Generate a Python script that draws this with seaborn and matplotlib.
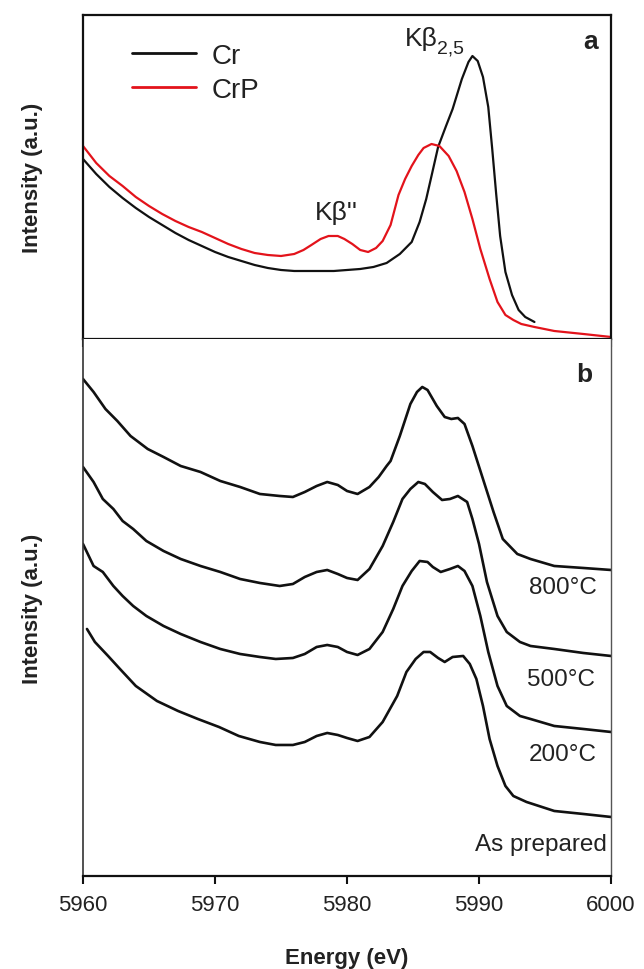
import matplotlib
matplotlib.use("Agg")
import matplotlib.pyplot as plt
import seaborn as sns
import pandas as pd

# ---------------- data ----------------
# panel a
energy_cr = [5960.0, 5961.0, 5962.0, 5963.0, 5964.0, 5965.0, 5966.0, 5967.0, 5968.0, 5969.0,
             5970.0, 5971.0, 5972.0, 5973.0, 5974.0, 5975.0, 5976.0, 5977.0, 5978.0, 5979.0,
             5980.0, 5981.0, 5982.0, 5983.0, 5984.0, 5984.9, 5985.5, 5986.0, 5986.4, 5986.9,
             5987.5, 5988.0, 5988.7, 5989.2, 5989.5, 5989.9, 5990.3, 5990.7, 5991.0, 5991.3,
             5991.6, 5992.0, 5992.5, 5993.0, 5993.5, 5994.2]
intensity_cr = [180, 165, 152, 141, 131, 122, 114, 106, 99, 93,
                87, 82, 78, 74, 71, 69, 68, 68, 68, 68,
                69, 70, 72, 76, 85, 97, 117, 140, 163, 192,
                213, 230, 260, 277, 283, 278, 262, 232, 190, 145,
                103, 67, 44, 29, 22, 17]

energy_crp = [5960.0, 5961.0, 5962.0, 5963.0, 5964.0, 5965.0, 5966.0, 5967.0, 5968.0, 5969.0,
              5970.0, 5971.0, 5972.0, 5973.0, 5974.0, 5975.0, 5976.0, 5976.7, 5977.3, 5978.0,
              5978.6, 5979.3, 5979.8, 5980.4, 5981.0, 5981.6, 5982.2, 5982.7, 5983.3, 5983.9,
              5984.4, 5984.9, 5985.4, 5985.8, 5986.4, 5987.0, 5987.7, 5988.3, 5988.9, 5989.5,
              5990.1, 5990.8, 5991.4, 5992.0, 5992.6, 5993.2, 5994.2, 5995.7, 5997.9, 6000.0]
intensity_crp = [193, 176, 163, 153, 142, 133, 125, 118, 112, 107,
                 101, 95, 90, 86, 84, 83, 85, 89, 94, 100,
                 103, 103, 100, 95, 89, 87, 91, 98, 114, 144,
                 160, 173, 184, 191, 195, 193, 183, 168, 147, 120,
                 90, 60, 37, 24, 19, 15, 12, 8, 5, 2]

# panel b
energy_800 = [5960.0, 5960.8, 5961.7, 5962.6, 5963.6, 5964.9, 5966.1, 5967.4, 5968.9, 5970.4,
              5971.9, 5973.4, 5974.9, 5975.9, 5976.8, 5977.7, 5978.5, 5979.3, 5980.0, 5980.8,
              5981.7, 5982.4, 5983.0, 5983.3, 5984.0, 5984.8, 5985.3, 5985.7, 5986.1, 5986.8,
              5987.4, 5987.9, 5988.4, 5988.9, 5989.5, 5990.3, 5991.1, 5991.8, 5992.9, 5993.9,
              5995.7, 5997.9, 6000.0]
int_800 = [497, 484, 467, 455, 440, 427, 419, 410, 404, 395,
           389, 382, 380, 379, 384, 390, 394, 391, 385, 382,
           389, 399, 410, 415, 440, 472, 484, 489, 486, 470,
           459, 457, 458, 452, 430, 397, 364, 337, 322, 317,
           310, 308, 306]

energy_500 = [5960.0, 5960.8, 5961.5, 5962.3, 5963.0, 5963.8, 5964.8, 5966.1, 5967.4, 5968.9,
              5970.4, 5971.9, 5973.4, 5974.9, 5975.9, 5976.8, 5977.7, 5978.5, 5979.3, 5980.0,
              5980.8, 5981.7, 5982.7, 5983.5, 5984.2, 5984.8, 5985.4, 5985.9, 5986.5, 5987.2,
              5987.8, 5988.4, 5989.1, 5989.5, 5990.0, 5990.6, 5991.4, 5992.1, 5993.1, 5993.9,
              5995.7, 5997.9, 6000.0]
int_500 = [409, 394, 377, 367, 355, 347, 335, 325, 317, 310,
           304, 297, 293, 290, 292, 299, 304, 306, 302, 298,
           296, 307, 330, 354, 377, 387, 394, 392, 384, 376,
           377, 380, 374, 357, 332, 294, 260, 244, 234, 230,
           227, 223, 220]

energy_200 = [5960.0, 5960.8, 5961.5, 5962.3, 5963.0, 5963.8, 5964.8, 5966.1, 5967.4, 5968.9,
              5970.4, 5971.9, 5973.4, 5974.6, 5975.9, 5976.8, 5977.7, 5978.5, 5979.3, 5980.0,
              5980.8, 5981.7, 5982.7, 5983.5, 5984.2, 5984.9, 5985.5, 5986.1, 5986.5, 5987.1,
              5987.8, 5988.4, 5988.9, 5989.5, 5990.1, 5990.7, 5991.4, 5992.1, 5993.1, 5993.9,
              5995.7, 5997.9, 6000.0]
int_200 = [332, 310, 304, 290, 280, 270, 260, 250, 242, 234,
           227, 222, 219, 217, 218, 222, 229, 231, 229, 224,
           221, 227, 244, 267, 290, 305, 315, 314, 309, 304,
           307, 310, 305, 290, 260, 224, 190, 170, 160, 157,
           150, 147, 144]

energy_asprep = [5960.3, 5960.9, 5961.9, 5962.8, 5964.0, 5965.6, 5967.2, 5968.7, 5970.3, 5971.8,
                 5973.4, 5974.6, 5975.9, 5976.8, 5977.7, 5978.5, 5979.3, 5980.0, 5980.8, 5981.7,
                 5982.7, 5983.8, 5984.5, 5985.2, 5985.8, 5986.3, 5986.9, 5987.4, 5988.0, 5988.8,
                 5989.3, 5989.8, 5990.3, 5990.8, 5991.4, 5992.0, 5992.6, 5993.6, 5995.7, 5997.9,
                 6000.0]
int_asprep = [247, 234, 220, 207, 190, 175, 165, 157, 149, 140,
              134, 131, 131, 134, 140, 143, 141, 138, 135, 139,
              154, 180, 204, 217, 224, 224, 218, 214, 219, 220,
              212, 197, 170, 137, 110, 90, 80, 74, 65, 62,
              59]

sample_labels = ["800\u00b0C", "500\u00b0C", "200\u00b0C", "As prepared"]
label_x = [5998.9, 5998.8, 5998.9, 5999.7]
label_heights = [289, 197, 122, 32]
x_ticks = [5960, 5970, 5980, 5990, 6000]

# ---------------- style ----------------
sns.set_style("ticks")
plt.rcParams["font.family"] = ["Liberation Sans", "DejaVu Sans"]
TXT = "#222222"

fig = plt.figure(figsize=(6.44, 9.70), dpi=100)
ax1 = fig.add_axes([0.1289, 0.6495, 0.8199, 0.334])
ax2 = fig.add_axes([0.1289, 0.0959, 0.8199, 0.5536])

# ---- panel a ----
df_a = pd.concat([
    pd.DataFrame({"E": energy_cr, "I": intensity_cr, "s": "Cr"}),
    pd.DataFrame({"E": energy_crp, "I": intensity_crp, "s": "CrP"}),
])
sns.lineplot(data=df_a, x="E", y="I", hue="s", palette={"Cr": "#111111", "CrP": "#e3131b"},
             estimator=None, sort=False, linewidth=1.6, ax=ax1)
ax1.set_xlim(5960, 6000)
ax1.set_ylim(0, 324)
ax1.set_xticks(x_ticks)
ax1.set_xticklabels([])
ax1.set_yticks([])
ax1.set_xlabel("")
ax1.set_ylabel("Intensity (a.u.)", fontsize=16, fontweight="bold", color=TXT)
ax1.yaxis.set_label_coords(-0.076, 0.5)
for s in ax1.spines.values():
    s.set_linewidth(1.6)
    s.set_color("#111111")
ax1.tick_params(axis="x", direction="out", length=6, width=1.5, colors="#111111")
leg = ax1.legend(loc="upper left", bbox_to_anchor=(0.093, 0.915), frameon=False,
                 fontsize=20, handlelength=2.3, handletextpad=0.55, labelspacing=0.3,
                 borderaxespad=0, borderpad=0)
for t in leg.get_texts():
    t.set_color(TXT)
for h in leg.get_lines():
    h.set_linewidth(2.0)
ax1.text(5979.2, 127, "K\u03b2''", fontsize=19, ha="center", va="center", color=TXT)
ax1.text(5986.85, 301, "K\u03b2", fontsize=19, ha="right", va="center", color=TXT)
ax1.text(5986.85, 291, "2,5", fontsize=14, ha="left", va="center", color=TXT)
ax1.text(0.975, 0.92, "a", transform=ax1.transAxes, fontsize=19, fontweight="bold",
         ha="right", va="center", color=TXT)

# ---- panel b ----
curves = [(energy_800, int_800), (energy_500, int_500), (energy_200, int_200),
          (energy_asprep, int_asprep)]
for (ex, iy) in curves:
    sns.lineplot(x=ex, y=iy, color="#111111", estimator=None, sort=False, linewidth=1.9, ax=ax2)
ax2.set_xlim(5960, 6000)
ax2.set_ylim(0, 537)
ax2.set_xticks(x_ticks)
ax2.set_yticks([])
ax2.tick_params(axis="x", direction="out", length=6, width=1.5, labelsize=16,
                colors="#111111", labelcolor=TXT, pad=7)
ax2.spines["top"].set_visible(False)
ax2.spines["bottom"].set_linewidth(1.6)
ax2.spines["bottom"].set_color("#111111")
ax2.spines["left"].set_linewidth(1.2)
ax2.spines["left"].set_color("#333333")
ax2.spines["right"].set_visible(True)
ax2.spines["right"].set_linewidth(1.0)
ax2.spines["right"].set_color("#555555")
ax2.set_xlabel("Energy (eV)", fontsize=16, fontweight="bold", color=TXT)
ax2.xaxis.set_label_coords(0.5, -0.133)
ax2.set_ylabel("Intensity (a.u.)", fontsize=16, fontweight="bold", color=TXT)
ax2.yaxis.set_label_coords(-0.076, 0.5)
for lab, lx, h in zip(sample_labels, label_x, label_heights):
    ax2.text(lx, h, lab, fontsize=17.5, ha="right", va="center", color=TXT)
ax2.text(0.965, 0.935, "b", transform=ax2.transAxes, fontsize=19, fontweight="bold",
         ha="right", va="center", color=TXT)

fig.savefig("out.png", dpi=100)
